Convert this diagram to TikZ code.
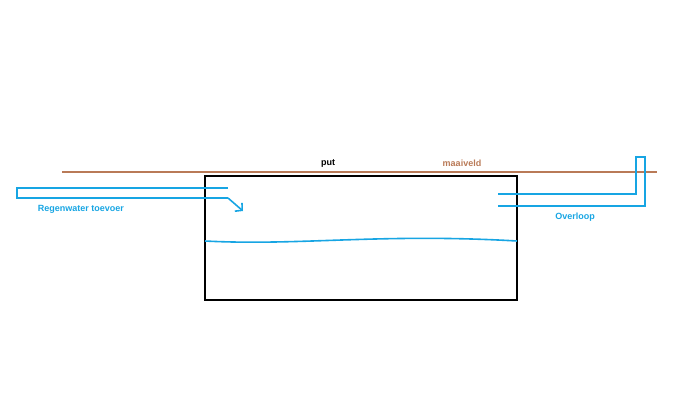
\documentclass[tikz,border=0pt]{standalone}
\usepackage{fontspec}
\setmainfont{Liberation Sans}
\usetikzlibrary{positioning, arrows.meta}
\definecolor{pipeblue}{HTML}{17A5E3}
\definecolor{soilbrown}{HTML}{B97A57}

\begin{document}
\begin{tikzpicture}[x=1pt, y=-1pt,
    pipe/.style={draw=pipeblue, line width=1.6pt},
    ground/.style={draw=soilbrown, line width=1.6pt},
    tank/.style={draw=black, line width=2pt},
    label/.style={font=\fontsize{9}{10}\selectfont\bfseries}
]
\useasboundingbox (0,0) rectangle (678,400);

% Ground level and tank
\draw[ground] (62,172) -- (657,172);
\draw[tank] (205,176) rectangle (517,300);

% Water surface
\draw[pipe] (205,241) .. controls (300,246) and (380,233) .. (517,241);

% Inlet pipe
\coordinate (in_top) at (228,188);
\coordinate (in_bot) at (228,198);
\draw[pipe] (in_top) -- (17,188) -- (17,198) -- (in_bot);
\coordinate (in_tip) at (243,211);
\draw[pipe, -{Straight Barb[length=5pt, width=11pt]}] (in_bot) -- (in_tip);

% Overflow pipe
\coordinate (out_top) at (498,194);
\coordinate (out_bot) at (498,206);
\draw[pipe] (out_top) -- (636,194) -- (636,157) -- (645,157) -- (645,206) -- (out_bot);

% Labels
\node[label, text=pipeblue] (inlet) at (81,209) {Regenwater toevoer};
\node[label] (put) at (328,163) {put};
\node[label, text=soilbrown] (maaiveld) at (462,163) {maaiveld};
\node[label, text=pipeblue] (overloop) at (575,217) {Overloop};

\end{tikzpicture}
\end{document}
